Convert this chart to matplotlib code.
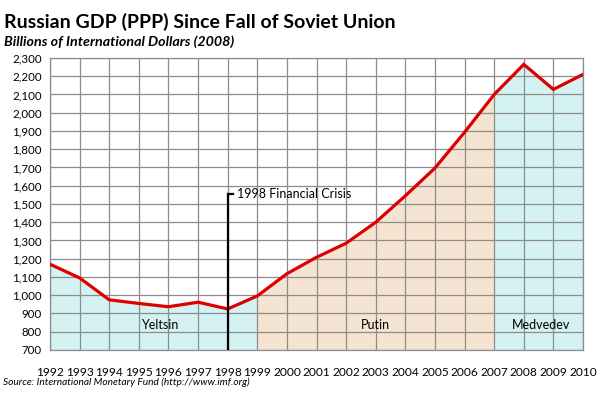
import matplotlib.pyplot as plt
import numpy as np

years = list(range(1992, 2011))
gdp = [1170, 1095, 975, 955, 937, 962, 925, 996, 1118, 1208, 1285, 1400,
       1545, 1697, 1893, 2100, 2265, 2128, 2210]

eras = [
    ("Yeltsin", 1992, 1999, "#d4f2f2"),
    ("Putin", 1999, 2007, "#f5e4d2"),
    ("Medvedev", 2007, 2010, "#d4f2f2"),
]
era_label_pos = {"Yeltsin": 1995.7, "Putin": 2003.0, "Medvedev": 2008.6}

crisis_year = 1998
crisis_top = 1555
y_ticks = list(range(700, 2301, 100))

plt.rcParams["font.family"] = ["Lato", "DejaVu Sans"]

fig = plt.figure(figsize=(6.12, 3.95), dpi=100)
ax = fig.add_axes([50 / 612, 1 - 350 / 395, (583 - 50) / 612, (350 - 58) / 395])

x = np.array(years)
y = np.array(gdp)
for name, start, end, color in eras:
    m = (x >= start) & (x <= end)
    ax.fill_between(x[m], 700, y[m], color=color, linewidth=0, zorder=1)
    ax.text(era_label_pos[name], 838, name, ha="center", va="center",
            fontsize=9, zorder=4)

ax.plot(x, y, color="#dd0000", linewidth=2.3, zorder=5, solid_joinstyle="miter")

ax.plot([crisis_year, crisis_year], [700, crisis_top], color="black",
        linewidth=1.6, zorder=6)
ax.plot([crisis_year, crisis_year + 0.17], [crisis_top, crisis_top],
        color="black", linewidth=1.6, zorder=6)
ax.text(crisis_year + 0.3, crisis_top, "1998 Financial Crisis", ha="left",
        va="center", fontsize=9, zorder=6)

ax.set_xlim(1992, 2010)
ax.set_ylim(700, 2300)
ax.set_xticks(years)
ax.set_xticklabels([str(v) for v in years], fontsize=8.6)
ax.set_yticks(y_ticks)
ax.set_yticklabels([f"{v:,}" for v in y_ticks], fontsize=8.3)
ax.tick_params(length=0, pad=6)
ax.tick_params(axis="x", pad=12)
ax.grid(True, color="#8c8c8c", linewidth=0.9, zorder=2)
ax.set_axisbelow(False)
for s in ax.spines.values():
    s.set_color("#8c8c8c")
    s.set_linewidth(0.9)
for gl in ax.get_xgridlines() + ax.get_ygridlines():
    gl.set_zorder(2)

fig.text(4 / 612, 1 - 22 / 395, "Russian GDP (PPP) Since Fall of Soviet Union",
         fontsize=14, fontweight="bold", va="center", ha="left")
fig.text(4 / 612, 1 - 42 / 395, "Billions of International Dollars (2008)",
         fontsize=10.3, fontweight="bold", style="italic", va="center", ha="left")
fig.text(3 / 612, 1 - 382 / 395,
         "Source: International Monetary Fund (http://www.imf.org)",
         fontsize=7.3, style="italic", va="center", ha="left")

fig.savefig("out.png", dpi=100)
